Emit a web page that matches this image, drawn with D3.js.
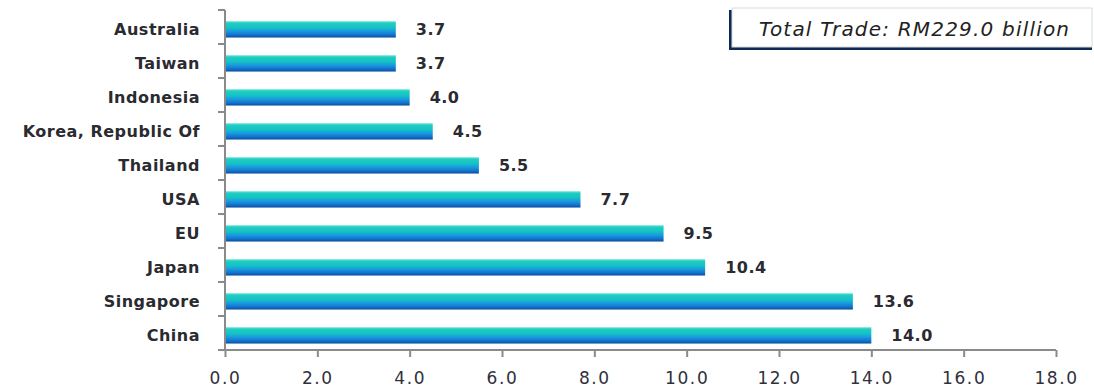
<!DOCTYPE html>
<html>
<head>
<meta charset="utf-8">
<script src="https://cdn.jsdelivr.net/npm/d3@7"></script>
<style>
  html, body { margin: 0; padding: 0; background: #ffffff; }
  svg { display: block; }
</style>
</head>
<body>
<script>
// Malaysia's trading partners, RM billion
const countries = ["Australia", "Taiwan", "Indonesia", "Korea, Republic Of", "Thailand",
                   "USA", "EU", "Japan", "Singapore", "China"];
const tradeValues = [3.7, 3.7, 4.0, 4.5, 5.5, 7.7, 9.5, 10.4, 13.6, 14.0];
const tickValues = [0, 2, 4, 6, 8, 10, 12, 14, 16, 18];
const totalLabel = "Total Trade: RM229.0 billion";

const W = 1094, H = 389;
const svg = d3.select("body").append("svg").attr("width", W).attr("height", H);

const x = d3.scaleLinear().domain([0, 18]).range([225, 1056]);
const y = d3.scaleBand().domain(countries).range([10, 350]);

// bar fill: teal on top fading into deep blue underneath
const defs = svg.append("defs");
const grad = defs.append("linearGradient").attr("id", "barFill")
  .attr("x1", 0).attr("y1", 0).attr("x2", 0).attr("y2", 1);
[[0, "#6fe6df"], [0.12, "#20cdc2"], [0.4, "#14c2c4"], [0.6, "#1a9be0"], [0.85, "#1170cc"], [1, "#0a4c9a"]]
  .forEach(([o, c]) => grad.append("stop").attr("offset", o).attr("stop-color", c));

const font = "DejaVu Sans, Verdana, sans-serif";

// bars
const bw = y.bandwidth();
svg.append("g").selectAll("rect").data(countries).join("rect")
  .attr("x", x(0))
  .attr("y", d => y(d) + bw * 0.33)
  .attr("width", (d, i) => x(tradeValues[i]) - x(0))
  .attr("height", bw * 0.48)
  .attr("fill", "url(#barFill)");

// value labels
svg.append("g").selectAll("text").data(countries).join("text")
  .attr("x", (d, i) => x(tradeValues[i]) + 20)
  .attr("y", d => y(d) + bw * 0.57)
  .attr("dy", "0.35em")
  .attr("font-family", font)
  .attr("font-weight", "bold")
  .attr("font-size", 16)
  .attr("letter-spacing", 0.5)
  .attr("fill", "#2a2a30")
  .text((d, i) => tradeValues[i].toFixed(1));

// category axis
const yAxis = svg.append("g").attr("transform", `translate(${x(0)},0)`);
yAxis.append("line")
  .attr("x1", 0).attr("x2", 0).attr("y1", 10).attr("y2", 350)
  .attr("stroke", "#8a8a8a").attr("stroke-width", 2);
yAxis.selectAll("line.tick").data(d3.range(countries.length + 1)).join("line")
  .attr("class", "tick")
  .attr("x1", -7).attr("x2", 0)
  .attr("y1", i => 10 + i * bw).attr("y2", i => 10 + i * bw)
  .attr("stroke", "#8a8a8a").attr("stroke-width", 2);
yAxis.selectAll("text").data(countries).join("text")
  .attr("x", -25)
  .attr("y", d => y(d) + bw * 0.57)
  .attr("dy", "0.35em")
  .attr("text-anchor", "end")
  .attr("font-family", font)
  .attr("font-weight", "bold")
  .attr("font-size", 16)
  .attr("letter-spacing", 0.5)
  .attr("fill", "#2a2a30")
  .text(d => d);

// value axis
const xAxis = svg.append("g").attr("transform", "translate(0,350)")
  .call(d3.axisBottom(x).tickValues(tickValues).tickFormat(d3.format(".1f")).tickSize(7).tickPadding(15));
xAxis.select(".domain").attr("stroke", "#8a8a8a").attr("stroke-width", 2)
  .attr("d", `M${x(0)},0H${x(18)}`);
xAxis.selectAll(".tick line").attr("stroke", "#8a8a8a").attr("stroke-width", 2);
xAxis.selectAll(".tick text")
  .attr("font-family", font)
  .attr("font-size", 17)
  .attr("letter-spacing", 1.6)
  .attr("fill", "#30303c");

// total trade callout
const box = svg.append("g");
box.append("rect").attr("x", 729).attr("y", 10).attr("width", 363).attr("height", 40)
  .attr("fill", "#0d2a55");
box.append("rect").attr("x", 732).attr("y", 8).attr("width", 360).attr("height", 39)
  .attr("fill", "#ffffff").attr("stroke", "#d6d9de").attr("stroke-width", 1);
box.append("text")
  .attr("x", 914).attr("y", 29)
  .attr("dy", "0.35em")
  .attr("text-anchor", "middle")
  .attr("font-family", font)
  .attr("font-style", "italic")
  .attr("font-size", 20)
  .attr("textLength", 310)
  .attr("lengthAdjust", "spacing")
  .attr("fill", "#222222")
  .text(totalLabel);
</script>
</body>
</html>
